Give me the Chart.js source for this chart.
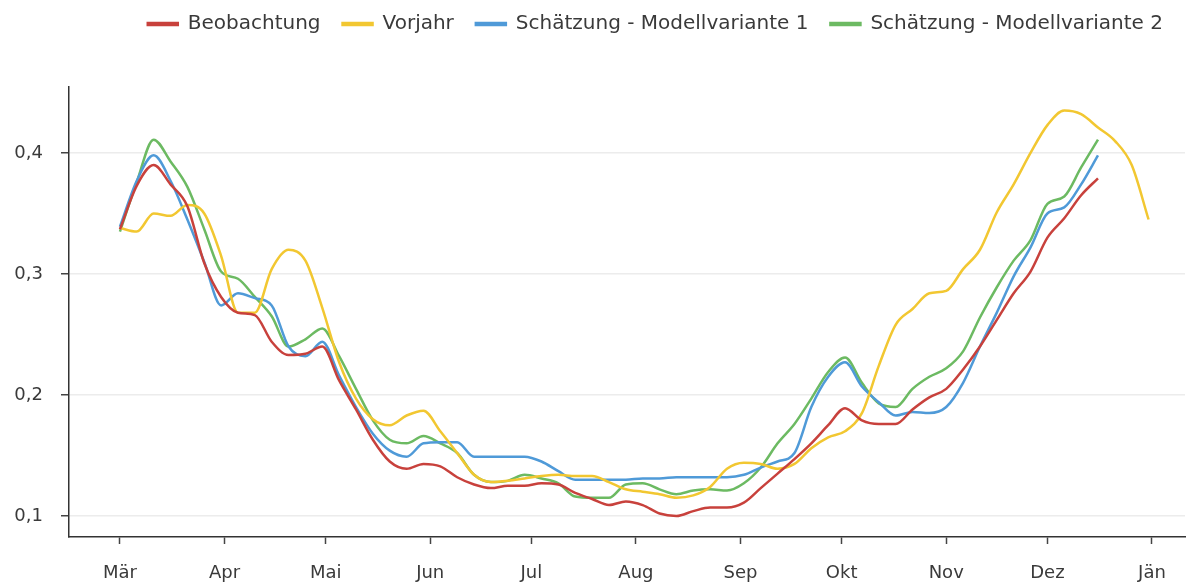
<!DOCTYPE html>
<html>
<head>
<meta charset="utf-8">
<script src="https://cdn.jsdelivr.net/npm/chart.js@4/dist/chart.umd.min.js"></script>
<style>
  body { margin: 0; background: #fff; }
  #wrap { width: 1193px; height: 585px; position: relative; }
</style>
</head>
<body>
<div id="wrap"><canvas id="ctx"></canvas></div>
<script>
const tage = [0, 5, 10, 15, 20, 25, 30, 35, 40, 45, 50, 55, 60, 65, 70, 75, 80, 85, 90, 95,
  100, 105, 110, 115, 120, 125, 130, 135, 140, 145, 150, 155, 160, 165, 170, 175, 180, 185, 190, 195,
  200, 205, 210, 215, 220, 225, 230, 235, 240, 245, 250, 255, 260, 265, 270, 275, 280, 285, 290, 295,
  300, 305];

const beobachtung = [0.337, 0.373, 0.390, 0.374, 0.356, 0.309, 0.281, 0.268, 0.266, 0.244,
  0.233, 0.234, 0.240, 0.212, 0.188, 0.163, 0.145, 0.139, 0.143, 0.141,
  0.132, 0.126, 0.123, 0.125, 0.125, 0.127, 0.126, 0.119, 0.114, 0.109,
  0.112, 0.109, 0.102, 0.100, 0.104, 0.107, 0.107, 0.111, 0.123, 0.135,
  0.147, 0.160, 0.175, 0.189, 0.179, 0.176, 0.176, 0.188, 0.198, 0.205,
  0.221, 0.240, 0.262, 0.284, 0.302, 0.330, 0.346, 0.365, 0.379, null,
  null, null];

const vorjahr = [0.338, 0.335, 0.350, 0.348, 0.357, 0.350, 0.315, 0.268, 0.268, 0.304,
  0.320, 0.311, 0.272, 0.227, 0.197, 0.180, 0.175, 0.183, 0.187, 0.170,
  0.152, 0.134, 0.128, 0.129, 0.131, 0.133, 0.134, 0.133, 0.133, 0.128,
  0.122, 0.120, 0.118, 0.115, 0.117, 0.124, 0.139, 0.144, 0.143, 0.139,
  0.143, 0.156, 0.165, 0.170, 0.185, 0.224, 0.258, 0.271, 0.284, 0.286,
  0.304, 0.320, 0.351, 0.374, 0.400, 0.423, 0.435, 0.432, 0.421, 0.410,
  0.390, 0.345];

const modell1 = [0.339, 0.377, 0.398, 0.377, 0.345, 0.310, 0.274, 0.284, 0.280, 0.274,
  0.240, 0.232, 0.244, 0.216, 0.190, 0.168, 0.154, 0.149, 0.160, 0.161,
  0.161, 0.149, 0.149, 0.149, 0.149, 0.145, 0.137, 0.130, 0.130, 0.130,
  0.130, 0.131, 0.131, 0.132, 0.132, 0.132, 0.132, 0.134, 0.140, 0.145,
  0.152, 0.190, 0.215, 0.227, 0.207, 0.194, 0.183, 0.186, 0.185, 0.190,
  0.210, 0.240, 0.268, 0.298, 0.322, 0.350, 0.355, 0.374, 0.398, null,
  null, null];

const modell2 = [0.335, 0.376, 0.411, 0.393, 0.372, 0.337, 0.302, 0.296, 0.281, 0.265,
  0.240, 0.246, 0.255, 0.232, 0.205, 0.179, 0.163, 0.160, 0.166, 0.160,
  0.152, 0.134, 0.128, 0.129, 0.134, 0.131, 0.127, 0.116, 0.115, 0.115,
  0.126, 0.127, 0.122, 0.118, 0.121, 0.122, 0.121, 0.127, 0.140, 0.160,
  0.176, 0.197, 0.219, 0.231, 0.210, 0.193, 0.190, 0.205, 0.215, 0.222,
  0.236, 0.264, 0.289, 0.311, 0.328, 0.358, 0.364, 0.388, 0.411, null,
  null, null];

// Monatsanfänge (Tag ab 1. März) und Beschriftungen
const monatsTage = [0, 31, 61, 92, 122, 153, 184, 214, 245, 275, 306];
const monate = ["Mär", "Apr", "Mai", "Jun", "Jul", "Aug", "Sep", "Okt", "Nov", "Dez", "Jän"];
const yTicks = [0.1, 0.2, 0.3, 0.4];

const punkte = (werte) => tage.map((t, i) => ({ x: t, y: werte[i] })).filter(p => p.y !== null);

const serie = (label, werte, farbe) => ({
  label: label,
  data: punkte(werte),
  borderColor: farbe,
  backgroundColor: farbe,
  borderWidth: 2.5,
  pointRadius: 0,
  cubicInterpolationMode: "monotone",
});

const textFarbe = "#3a3a3a";
const schrift = "'DejaVu Sans', sans-serif";

// Legende auf feste Höhe bringen, damit die Zeichenfläche bei y=87 beginnt
const legendenHoehe = {
  id: "legendenHoehe",
  beforeUpdate(chart) {
    const lg = chart.legend;
    if (lg && !lg._fest) {
      const fit = lg.fit;
      lg.fit = function () { fit.call(this); this.height = 95; };
      lg._fest = true;
    }
  },
};

const pintarGrafica = () => {
  new Chart(document.getElementById("ctx"), {
    type: "line",
    data: {
      datasets: [
        serie("Beobachtung", beobachtung, "#c8413c"),
        serie("Vorjahr", vorjahr, "#f2c731"),
        serie("Schätzung - Modellvariante 1", modell1, "#4f9ad8"),
        serie("Schätzung - Modellvariante 2", modell2, "#6cba62"),
      ],
    },
    options: {
      responsive: true,
      maintainAspectRatio: false,
      animation: false,
      layout: { padding: { left: 0, right: 8, top: -8, bottom: 0 } },
      plugins: {
        legend: {
          position: "top",
          align: "end",
          labels: {
            boxWidth: 30,
            boxHeight: 2,
            padding: 22,
            color: textFarbe,
            font: { family: schrift, size: 20 },
          },
        },
        tooltip: { enabled: false },
      },
      scales: {
        x: {
          type: "linear",
          min: -15.1,
          max: 315.8,
          afterBuildTicks: (s) => { s.ticks = monatsTage.map(v => ({ value: v })); },
          afterFit: (s) => { s.height = 48; },
          ticks: {
            autoSkip: false,
            maxRotation: 0,
            padding: 19,
            color: textFarbe,
            font: { family: schrift, size: 18 },
            callback: (v) => monate[monatsTage.indexOf(v)],
          },
          grid: { drawOnChartArea: false, tickLength: 7, tickColor: "#444", tickWidth: 1.5 },
          border: { color: "#333", width: 1.5 },
        },
        y: {
          min: 0.0826,
          max: 0.4545,
          afterBuildTicks: (s) => { s.ticks = yTicks.map(v => ({ value: v })); },
          afterFit: (s) => { s.width = 69; },
          ticks: {
            padding: 18,
            color: textFarbe,
            font: { family: schrift, size: 18 },
            callback: (v) => v.toFixed(1).replace(".", ","),
          },
          grid: { color: "#ececec", lineWidth: 1.5, tickLength: 8, tickColor: "#444", tickWidth: 1.5 },
          border: { color: "#333", width: 1.5 },
        },
      },
    },
    plugins: [legendenHoehe],
  });
};

window.addEventListener("load", pintarGrafica);
</script>
</body>
</html>
